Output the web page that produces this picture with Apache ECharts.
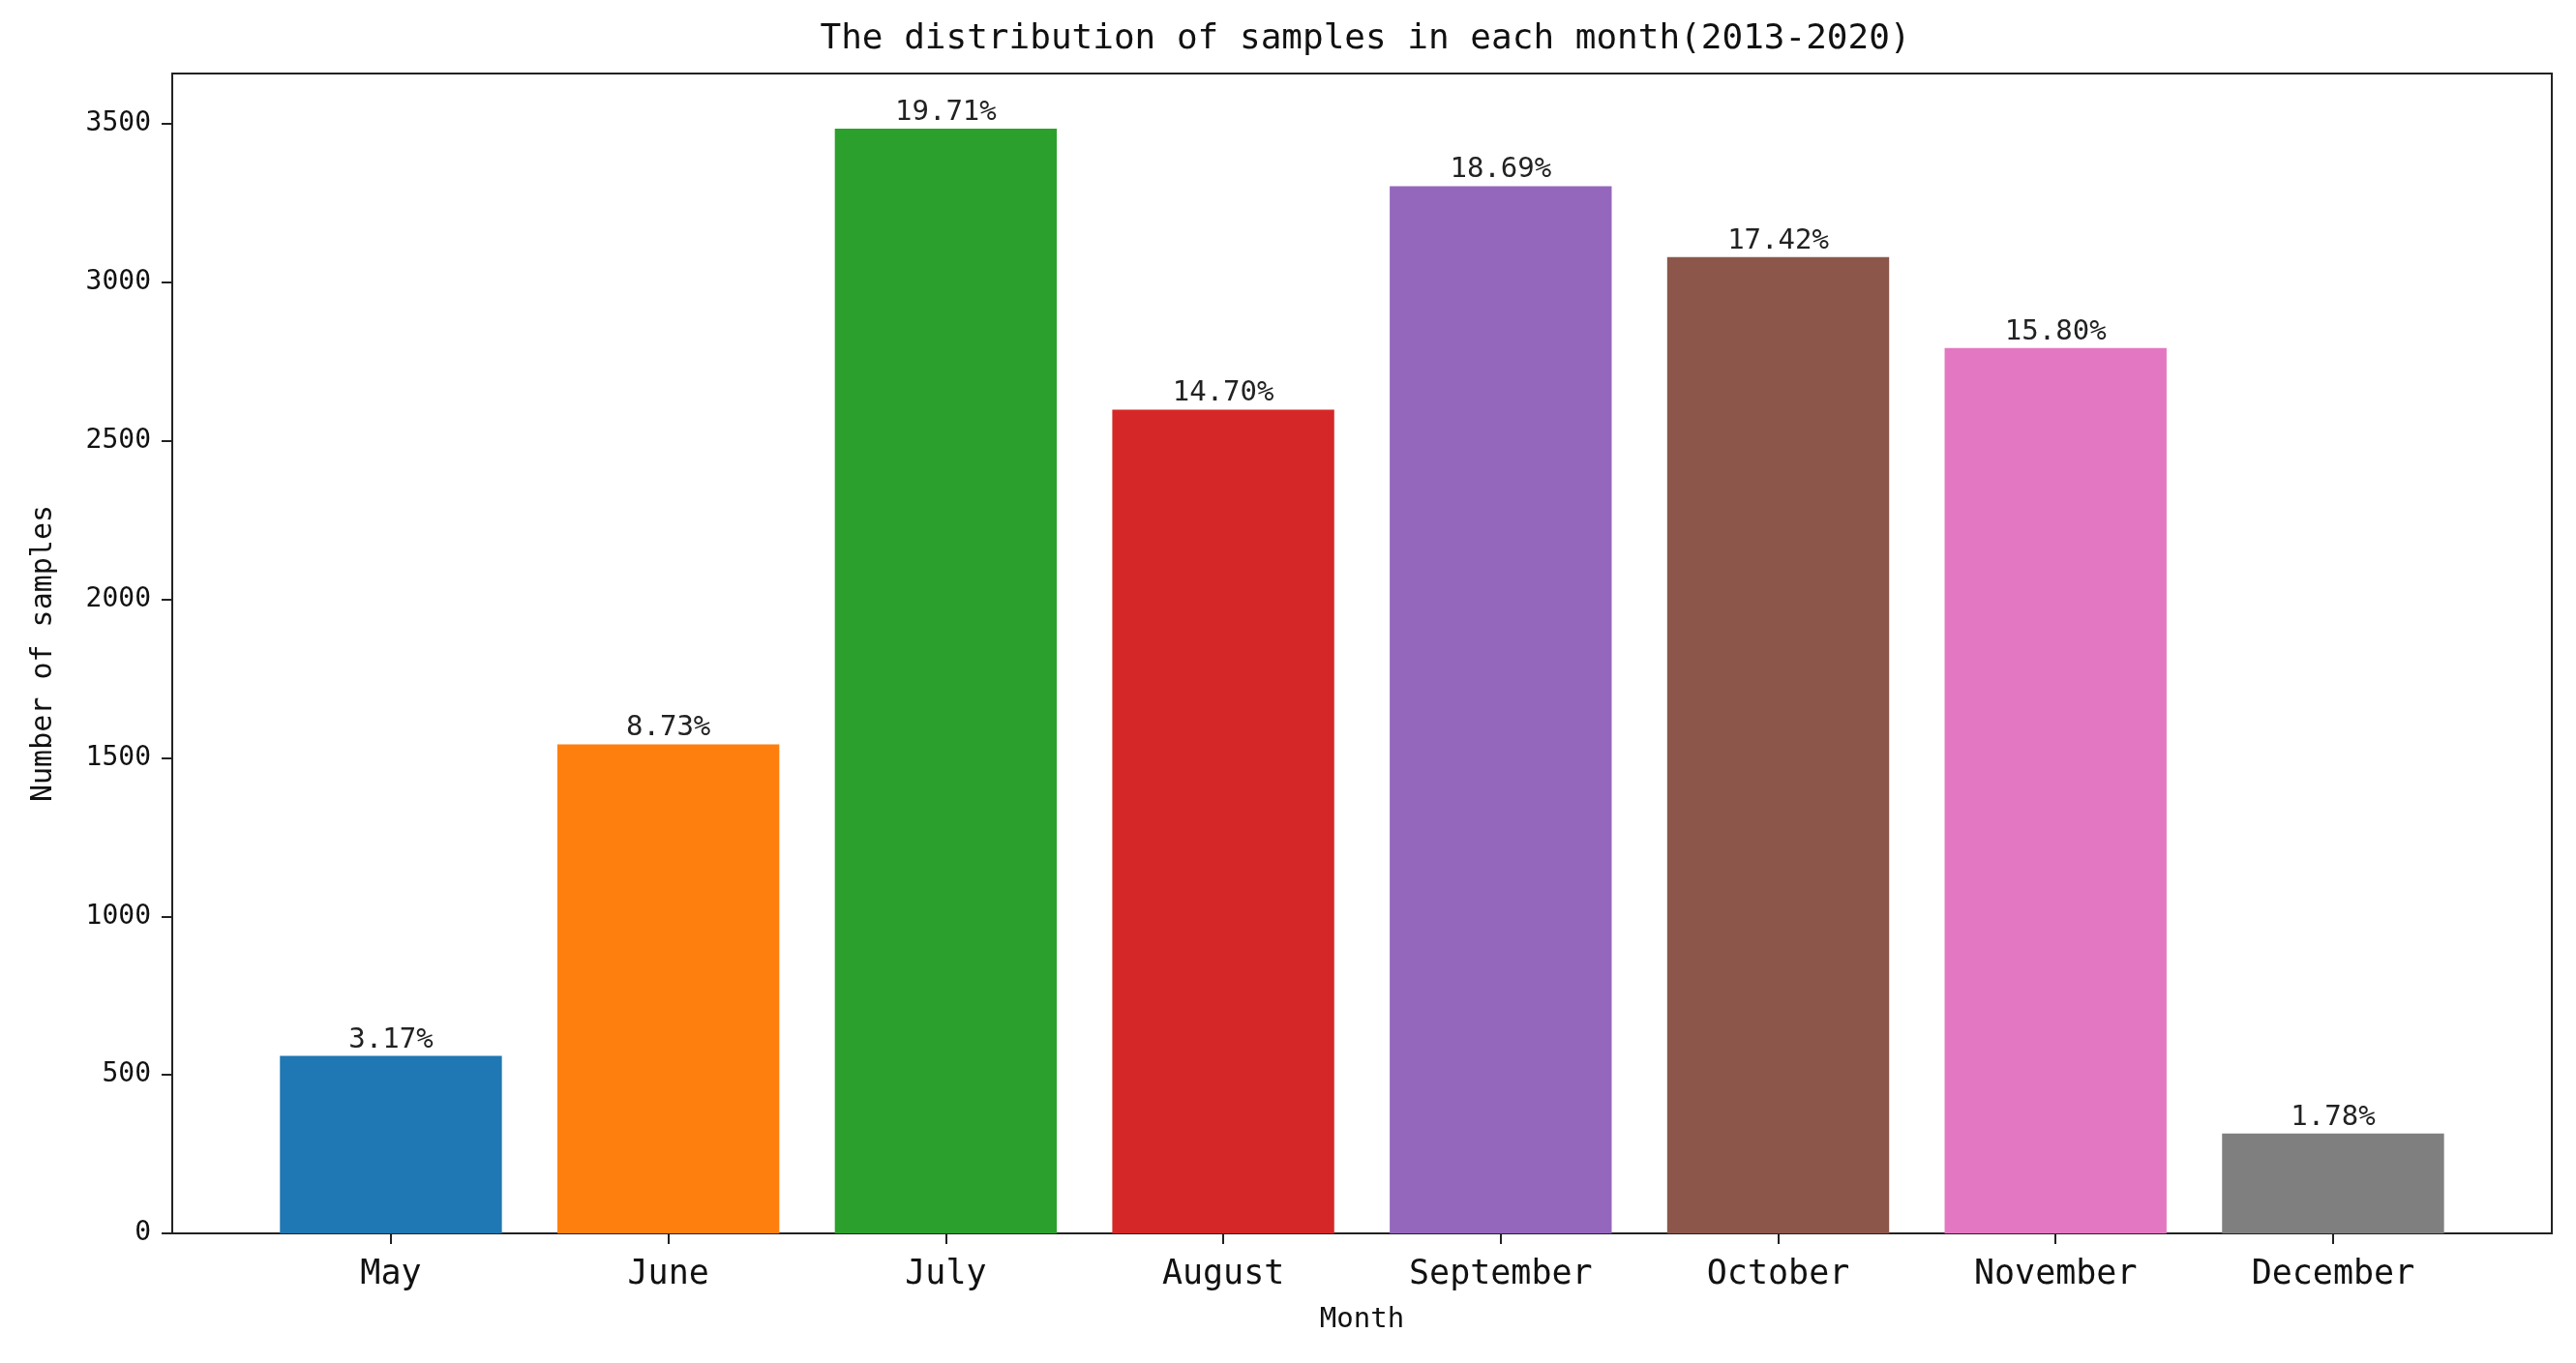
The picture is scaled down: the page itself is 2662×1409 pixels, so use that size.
<!DOCTYPE html>
<html>
<head>
<meta charset="utf-8">
<script src="https://cdn.jsdelivr.net/npm/echarts@6/dist/echarts.min.js"></script>
<style>
html,body{margin:0;padding:0;background:#fff;}
#chart{width:2662px;height:1409px;}
</style>
</head>
<body>
<div id="chart"></div>
<script>
const months = ['May', 'June', 'July', 'August', 'September', 'October', 'November', 'December'];
const samples = [560, 1543, 3485, 2599, 3304, 3080, 2793, 315];
const barColors = ['#1f77b4', '#ff7f0e', '#2ca02c', '#d62728', '#9467bd', '#8c564b', '#e377c2', '#7f7f7f'];
const yTicks = [0, 500, 1000, 1500, 2000, 2500, 3000, 3500];
const titleText = 'The distribution of samples in each month(2013-2020)';

const FONT = '"DejaVu Sans Mono", "Liberation Mono", monospace';
const total = samples.reduce((a, b) => a + b, 0);
const yMax = Math.max(...samples) * 1.05;

const chart = echarts.init(document.getElementById('chart'));
chart.setOption({
  animation: false,
  backgroundColor: '#ffffff',
  title: {
    text: titleText,
    left: 1406,
    textAlign: 'center',
    top: 18,
    textStyle: { fontFamily: FONT, fontSize: 36, fontWeight: 'normal', color: '#111' }
  },
  grid: [
    { left: 178, right: 25, top: 76, bottom: 134, show: true, borderColor: '#222', borderWidth: 2, backgroundColor: 'transparent' },
    { left: 260.6, width: 2293.7, top: 76, bottom: 134 }
  ],
  xAxis: [
    { gridIndex: 0, type: 'value', min: 0, max: 1, show: false },
    {
      gridIndex: 1, type: 'category', data: months,
      axisLine: { show: false },
      axisTick: { show: true, alignWithLabel: true, length: 11, lineStyle: { color: '#222', width: 2 } },
      axisLabel: { fontFamily: FONT, fontSize: 35, color: '#111', margin: 25 },
      name: 'Month', nameLocation: 'middle', nameGap: 75,
      nameTextStyle: { fontFamily: FONT, fontSize: 29, color: '#111' }
    }
  ],
  yAxis: [
    {
      gridIndex: 0, type: 'value', min: 0, max: yMax,
      axisLine: { show: true, lineStyle: { color: '#222', width: 2 } },
      axisTick: { show: true, length: 11, customValues: yTicks, lineStyle: { color: '#222', width: 2 } },
      axisLabel: { fontFamily: FONT, fontSize: 28, color: '#111', margin: 22, customValues: yTicks, formatter: v => String(v) },
      splitLine: { show: false },
      name: 'Number of samples', nameLocation: 'middle', nameRotate: 90, nameGap: 118,
      nameTextStyle: { fontFamily: FONT, fontSize: 30, color: '#111' }
    },
    { gridIndex: 1, type: 'value', min: 0, max: yMax, show: false, splitLine: { show: false } }
  ],
  series: [{
    type: 'bar',
    xAxisIndex: 1,
    yAxisIndex: 1,
    barWidth: '80%',
    data: samples.map((v, i) => ({ value: v, itemStyle: { color: barColors[i] } })),
    label: {
      show: true,
      position: 'top',
      distance: 2,
      fontFamily: FONT,
      fontSize: 29,
      color: '#222',
      formatter: p => (p.value / total * 100).toFixed(2) + '%'
    }
  }]
});
</script>
</body>
</html>
